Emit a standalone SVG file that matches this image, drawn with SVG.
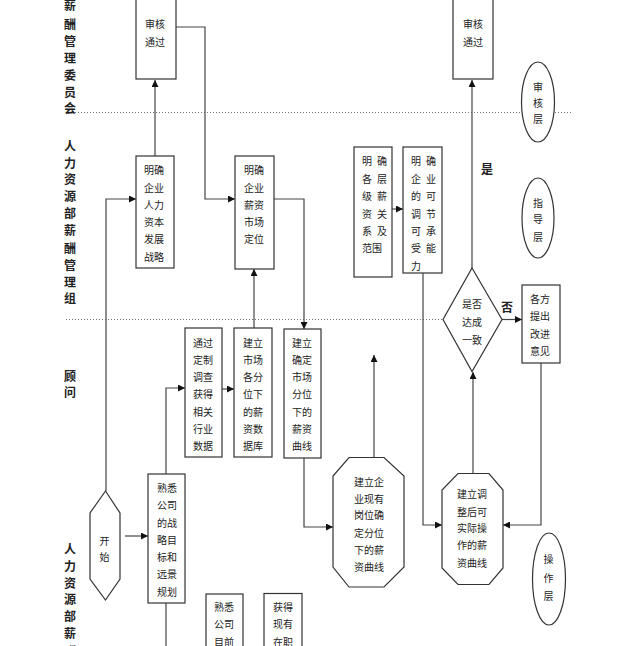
<svg xmlns="http://www.w3.org/2000/svg" width="640" height="646" viewBox="0 0 640 646">
<defs>
<marker id="arr" viewBox="0 0 10 10" refX="10" refY="5" markerWidth="7" markerHeight="7" markerUnits="userSpaceOnUse" orient="auto"><path d="M0,0 L10,5 L0,10 z" fill="#111"/></marker>
<style>
.box{fill:#fff;stroke:#333;stroke-width:1.2}
.t{font-family:"Noto Sans CJK SC","Noto Sans",sans-serif;font-size:10px;fill:#222;text-anchor:middle;dominant-baseline:central}
.lab{font-family:"Noto Sans CJK SC","Noto Sans",sans-serif;font-size:12px;font-weight:bold;fill:#222;text-anchor:middle;dominant-baseline:central}
.c{fill:none;stroke:#444;stroke-width:1.2}
.ca{fill:none;stroke:#444;stroke-width:1.2;marker-end:url(#arr)}
.dot{stroke:#777;stroke-width:1;stroke-dasharray:1 2}
</style>
</defs>
<rect width="640" height="646" fill="#fff"/>

<g id="lanes">
<line class="dot" x1="66" y1="112.5" x2="573" y2="112.5"/>
<line class="dot" x1="66" y1="319.5" x2="443" y2="319.5"/>
<text class="lab" x="70" y="4">薪</text>
<text class="lab" x="70" y="23">酬</text>
<text class="lab" x="70" y="40">管</text>
<text class="lab" x="70" y="57">理</text>
<text class="lab" x="70" y="74">委</text>
<text class="lab" x="70" y="91">员</text>
<text class="lab" x="70" y="107">会</text>
<text class="lab" x="70" y="145">人</text>
<text class="lab" x="70" y="162">力</text>
<text class="lab" x="70" y="178">资</text>
<text class="lab" x="70" y="195">源</text>
<text class="lab" x="70" y="212">部</text>
<text class="lab" x="70" y="229">薪</text>
<text class="lab" x="70" y="247">酬</text>
<text class="lab" x="70" y="264">管</text>
<text class="lab" x="70" y="281">理</text>
<text class="lab" x="70" y="297">组</text>
<text class="lab" x="70" y="375">顾</text>
<text class="lab" x="70" y="391">问</text>
<text class="lab" x="70" y="548">人</text>
<text class="lab" x="70" y="565">力</text>
<text class="lab" x="70" y="582">资</text>
<text class="lab" x="70" y="598">源</text>
<text class="lab" x="70" y="615">部</text>
<text class="lab" x="70" y="632">薪</text>
<text class="lab" x="70" y="650">酬</text>
</g>

<g id="connectors">
<path class="ca" d="M155,156 V80"/>
<path class="ca" d="M176,27 H205 V199 H235"/>
<path class="ca" d="M106,491 V199 H136"/>
<path class="ca" d="M254,328 V269"/>
<path class="ca" d="M274,199 H304 V329"/>
<path class="ca" d="M222,389 H234"/>
<path class="ca" d="M166,474 V388 H185"/>
<path class="ca" d="M125,536 H148"/>
<path class="c" d="M166,603 V646"/>
<path class="ca" d="M304,458 V527 H333"/>
<path class="ca" d="M374,457 V355"/>
<path class="ca" d="M473,473 V372"/>
<path class="ca" d="M472,268 V80"/>
<path class="ca" d="M502,319.5 H522"/>
<path class="ca" d="M392,209 H403"/>
<path class="ca" d="M423,273 V525 H442"/>
<path class="ca" d="M541,363 V525 H503"/>
</g>

<g id="n_audit1">
<rect class="box" x="136" y="-5" width="40" height="84"/>
<text class="t" x="155" y="23">审核</text>
<text class="t" x="155" y="41">通过</text>
</g>
<g id="n_audit2">
<rect class="box" x="453" y="-5" width="40" height="84"/>
<text class="t" x="473" y="23">审核</text>
<text class="t" x="473" y="41">通过</text>
</g>

<g id="n_strategy">
<rect class="box" x="136" y="156" width="38" height="112"/>
<text class="t" x="154" y="169">明确</text>
<text class="t" x="154" y="187">企业</text>
<text class="t" x="154" y="204">人力</text>
<text class="t" x="154" y="221">资本</text>
<text class="t" x="154" y="238">发展</text>
<text class="t" x="154" y="256">战略</text>
</g>

<g id="n_position">
<rect class="box" x="235" y="156" width="39" height="113"/>
<text class="t" x="254" y="169">明确</text>
<text class="t" x="254" y="187">企业</text>
<text class="t" x="254" y="204">薪资</text>
<text class="t" x="254" y="221">市场</text>
<text class="t" x="254" y="238">定位</text>
</g>

<g id="n_levels">
<rect class="box" x="354" y="147" width="38" height="130"/>
<text class="t" x="367" y="160">明</text><text class="t" x="382" y="160">确</text>
<text class="t" x="367" y="178">各</text><text class="t" x="382" y="178">层</text>
<text class="t" x="367" y="195">级</text><text class="t" x="382" y="195">薪</text>
<text class="t" x="367" y="213">资</text><text class="t" x="382" y="213">关</text>
<text class="t" x="367" y="230">系</text><text class="t" x="382" y="230">及</text>
<text class="t" x="367" y="247">范</text><text class="t" x="377" y="247">围</text>
</g>

<g id="n_afford">
<rect class="box" x="403" y="147" width="39" height="126"/>
<text class="t" x="416" y="160">明</text><text class="t" x="431" y="160">确</text>
<text class="t" x="416" y="178">企</text><text class="t" x="431" y="178">业</text>
<text class="t" x="416" y="195">的</text><text class="t" x="431" y="195">可</text>
<text class="t" x="416" y="213">调</text><text class="t" x="431" y="213">节</text>
<text class="t" x="416" y="230">可</text><text class="t" x="431" y="230">承</text>
<text class="t" x="416" y="247">受</text><text class="t" x="431" y="247">能</text>
<text class="t" x="416" y="265">力</text>
</g>

<g id="n_decision">
<polygon class="box" points="472,268 502,319.5 472,371.5 443,319.5"/>
<text class="t" x="472" y="303">是否</text>
<text class="t" x="472" y="321">达成</text>
<text class="t" x="472" y="339">一致</text>
<text class="lab" x="507" y="306">否</text>
<text class="lab" x="487" y="168">是</text>
</g>

<g id="n_opinion">
<rect class="box" x="522" y="285" width="38" height="78"/>
<text class="t" x="540" y="298">各方</text>
<text class="t" x="540" y="315">提出</text>
<text class="t" x="540" y="333">改进</text>
<text class="t" x="540" y="350">意见</text>
</g>

<g id="n_survey">
<rect class="box" x="185" y="328" width="37" height="129"/>
<text class="t" x="203" y="342">通过</text>
<text class="t" x="203" y="359">定制</text>
<text class="t" x="203" y="376">调查</text>
<text class="t" x="203" y="393">获得</text>
<text class="t" x="203" y="411">相关</text>
<text class="t" x="203" y="428">行业</text>
<text class="t" x="203" y="445">数据</text>
</g>

<g id="n_database">
<rect class="box" x="234" y="328" width="38" height="129"/>
<text class="t" x="253" y="342">建立</text>
<text class="t" x="253" y="359">市场</text>
<text class="t" x="253" y="376">各分</text>
<text class="t" x="253" y="393">位下</text>
<text class="t" x="253" y="411">的薪</text>
<text class="t" x="253" y="428">资数</text>
<text class="t" x="253" y="445">据库</text>
</g>

<g id="n_curve">
<rect class="box" x="284" y="329" width="37" height="129"/>
<text class="t" x="302" y="342">建立</text>
<text class="t" x="302" y="359">确定</text>
<text class="t" x="302" y="376">市场</text>
<text class="t" x="302" y="393">分位</text>
<text class="t" x="302" y="411">下的</text>
<text class="t" x="302" y="428">薪资</text>
<text class="t" x="302" y="445">曲线</text>
</g>

<g id="n_current_curve">
<polygon class="box" points="349,457.5 384,457.5 404,476 404,567 384,587 349,587 333,567 333,476"/>
<text class="t" x="369" y="481">建立企</text>
<text class="t" x="369" y="498">业现有</text>
<text class="t" x="369" y="514">岗位确</text>
<text class="t" x="369" y="532">定分位</text>
<text class="t" x="369" y="549">下的薪</text>
<text class="t" x="369" y="566">资曲线</text>
</g>

<g id="n_adjusted_curve">
<polygon class="box" points="458,473.5 489,473.5 503,490 503,568 489,584.5 458,584.5 442,568 442,490"/>
<text class="t" x="472" y="493">建立调</text>
<text class="t" x="472" y="511">整后可</text>
<text class="t" x="472" y="527">实际操</text>
<text class="t" x="472" y="544">作的薪</text>
<text class="t" x="472" y="562">资曲线</text>
</g>

<g id="n_start">
<polygon class="box" points="105.5,491 120,513 120,579 105.5,600 90,579 90,513"/>
<text class="t" x="104.5" y="540">开</text>
<text class="t" x="104.5" y="556">始</text>
</g>

<g id="n_familiar">
<rect class="box" x="148" y="474" width="37" height="129"/>
<text class="t" x="167" y="487">熟悉</text>
<text class="t" x="167" y="504">公司</text>
<text class="t" x="167" y="522">的战</text>
<text class="t" x="167" y="539">略目</text>
<text class="t" x="167" y="556">标和</text>
<text class="t" x="167" y="573">远景</text>
<text class="t" x="167" y="591">规划</text>
</g>

<g id="n_familiar_current">
<rect class="box" x="206" y="594" width="37" height="70"/>
<text class="t" x="224" y="606">熟悉</text>
<text class="t" x="224" y="623">公司</text>
<text class="t" x="224" y="641">目前</text>
</g>

<g id="n_obtain">
<rect class="box" x="264" y="593.5" width="38" height="70"/>
<text class="t" x="283" y="606">获得</text>
<text class="t" x="283" y="623">现有</text>
<text class="t" x="283" y="641">在职</text>
</g>

<g id="layer_labels">
<ellipse class="box" cx="538" cy="102" rx="16.5" ry="40"/>
<text class="t" x="538" y="86">审</text>
<text class="t" x="538" y="102">核</text>
<text class="t" x="538" y="118">层</text>
<ellipse class="box" cx="538" cy="218" rx="16" ry="40"/>
<text class="t" x="538" y="202">指</text>
<text class="t" x="538" y="218">导</text>
<text class="t" x="538" y="236">层</text>
<ellipse class="box" cx="549" cy="579" rx="16.5" ry="46"/>
<text class="t" x="548.5" y="558">操</text>
<text class="t" x="548.5" y="577">作</text>
<text class="t" x="548.5" y="595">层</text>
</g>
</svg>
